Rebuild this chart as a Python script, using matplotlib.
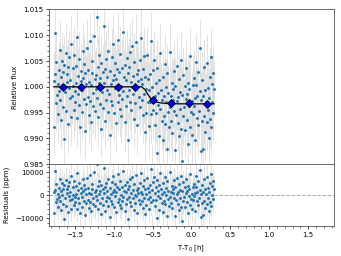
import numpy as np
import matplotlib
matplotlib.use("Agg")
import matplotlib.pyplot as plt
from matplotlib.ticker import AutoMinorLocator, MultipleLocator

# observation window (hours from mid-transit), evenly sampled
t_start = -1.77
t_end = 0.29
n_points = 300

# residuals (ppm)
resid_ppm = [
    1200, -7800, 10500, 2400, -3100, 4800, -1500, 600, -5200, 3300, -800, 7200, -2600, 1900, -6400, 300, 5100, -3900, 2800, -10200,
    4300, -1100, 6600, -4700, 900, 2500, -7300, 3800, -300, 5700, -2200, 1400, -5800, 8300, -1700, 200, 3600, -4400, 6100, -900,
    -2900, 4100, 700, -6100, 9600, -1300, 2100, -3500, 5300, -7700, 1100, 3000, -600, -4900, 6900, 1800, -2400, 4400, -8600, 2700,
    500, -3300, 7600, -1900, 3200, -5500, 1000, 8900, -2800, 400, -6800, 2600, 5000, -1200, -3700, 9900, 1500, -4600, 2200, -400,
    13600, -2100, 3900, -5900, 700, 6200, -3400, 1700, -8100, 4600, -1000, 2900, -4200, 11800, 800, -6600, 3500, -2500, 5400, -700,
    2000, -4800, 7000, -1400, -9300, 3100, 600, -2700, 5800, -3600, 1300, 8400, -5000, 2300, -200, 4700, -7100, 1600, 3400, -3000,
    9100, -1600, 2800, -4300, 6300, 100, -5600, 3700, -2300, 10600, -800, 1900, -6900, 4200, 1400, -3800, 5600, -1800, 2600, -10400,
    3900, -700, 6800, -2900, 900, -4500, 7900, 2100, -1300, -6200, 4900, 300, -3200, 8700, -500, 2400, -7500, 3300, 1100, -2000,
    5200, -3900, 1600, 9400, -2600, 700, -5300, 3800, -1100, 6500, -8300, 2700, 400, -4100, 7300, -1500, 3000, -6000, 1200, 4500,
    -900, 11200, -3000, 2300, -14300, 5900, -1900, 8000, -4700, 1000, 3600, -2200, 6700, -9800, 1800, -500, 4300, -6400, 9700, -1200,
    2500, -3500, 600, -7200, 5100, 1400, -2500, 7700, -4000, 300, 3200, -8800, 6000, -1700, 2000, -4600, 10100, -600, 1500, -3300,
    4000, -5700, 800, 2900, -1400, 6400, -9000, 3500, -2100, 500, 7400, -3700, 1300, -6300, 4800, -1000, 2200, -4900, 8500, -11000,
    1700, -2400, 5500, -700, 3400, -5100, 900, 6900, -3100, 1900, -7800, 4100, -400, 2800, -4400, 9300, -1600, 600, -6000, 3700,
    -2000, 5000, -500, 1100, -7000, 3600, 8200, -2700, 1500, -4200, 6100, -1300, 2400, 10800, -9200, 700, -3400, 4600, -8700, 1600,
    -2300, 7100, -5400, 2600, 400, -3600, 8000, -1100, 3100, -6700, 1200, 5300, -2900, 9000, -4500, 300, 3900, -1800, 6000, 2900,
]
err_ppm = 5500

# fitted transit model
model_t = [-1.77, -0.64, -0.60, -0.56, -0.52, -0.48, -0.44, -0.38, -0.30, -0.15, 0.29]
model_f = [1.0, 1.0, 0.9995, 0.9985, 0.9977, 0.99725, 0.9970, 0.99685, 0.99675, 0.9967, 0.9967]

# binned points (blue diamonds)
bin_t = [-1.65, -1.42, -1.18, -0.95, -0.72, -0.49, -0.26, -0.03, 0.20]
bin_f = [1.0, 1.0, 1.0, 1.0, 1.0, 0.99740, 0.99690, 0.99680, 0.99670]
bin_err = 0.0003

t = np.linspace(t_start, t_end, n_points)
resid = np.array(resid_ppm)
flux = np.interp(t, model_t, model_f) + resid * 1e-6

plt.rcParams["font.size"] = 5

fig = plt.figure(figsize=(3.41, 2.56), dpi=100)
gs = fig.add_gridspec(2, 1, height_ratios=[5, 2], hspace=0,
                      left=0.144, right=0.979, top=0.963, bottom=0.117)
ax1 = fig.add_subplot(gs[0])
ax2 = fig.add_subplot(gs[1], sharex=ax1)

ax1.errorbar(t, flux, yerr=err_ppm * 1e-6, fmt="o", ms=1.1, color="tab:blue",
             ecolor="#d6d6d6", elinewidth=0.5, zorder=2)
ax1.plot(model_t, model_f, color="black", lw=0.9, zorder=3)
ax1.errorbar(bin_t, bin_f, yerr=bin_err, fmt="D", ms=3.8, mfc="blue", mec="black",
             mew=0.6, ecolor="black", elinewidth=0.6, zorder=4)
ax1.set_ylim(0.985, 1.015)
ax1.yaxis.set_major_locator(MultipleLocator(0.005))
ax1.set_ylabel("Relative flux")
plt.setp(ax1.get_xticklabels(), visible=False)

ax2.errorbar(t, resid, yerr=err_ppm, fmt="o", ms=1.1, color="tab:blue",
             ecolor="#d6d6d6", elinewidth=0.5, zorder=2)
ax2.axhline(0, color="darkgray", ls="--", lw=0.7, zorder=1)
ax2.set_ylim(-13300, 13400)
ax2.set_yticks([-10000, 0, 10000])
ax2.set_ylabel("Residuals (ppm)")
ax2.set_xlabel("T-T$_0$ [h]")
ax2.set_xlim(-1.83, 1.83)

for ax in (ax1, ax2):
    ax.xaxis.set_minor_locator(AutoMinorLocator())
    ax.yaxis.set_minor_locator(AutoMinorLocator())
    ax.tick_params(which="major", length=2.5, width=0.5, labelsize=5, pad=1.5)
    ax.tick_params(which="minor", length=1.5, width=0.4)
    for s in ax.spines.values():
        s.set_linewidth(0.6)
        s.set_color("#555555")

fig.savefig("out.png", dpi=100)
